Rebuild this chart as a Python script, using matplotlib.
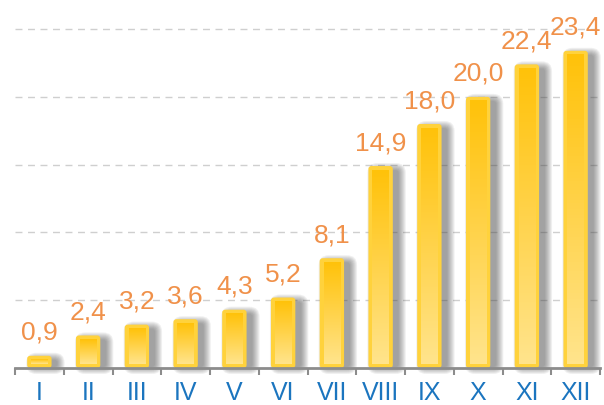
import numpy as np
import matplotlib.pyplot as plt
from matplotlib.patches import FancyBboxPatch
from matplotlib.colors import LinearSegmentedColormap

# datos
meses = ['I', 'II', 'III', 'IV', 'V', 'VI', 'VII', 'VIII', 'IX', 'X', 'XI', 'XII']
valores = [0.9, 2.4, 3.2, 3.6, 4.3, 5.2, 8.1, 14.9, 18.0, 20.0, 22.4, 23.4]
etiquetas = ['0,9', '2,4', '3,2', '3,6', '4,3', '5,2', '8,1', '14,9', '18,0', '20,0', '22,4', '23,4']

plt.rcParams['font.family'] = ['Liberation Sans Narrow', 'Liberation Sans', 'DejaVu Sans']

fig = plt.figure(figsize=(6.04, 4.05), dpi=100)
ax = fig.add_axes([15 / 604, 37 / 405, 585 / 604, 347 / 405])
ax.set_xlim(-0.5, 11.5)
ax.set_ylim(0, 25.6)

# rejilla
for y in [5, 10, 15, 20, 25]:
    ax.axhline(y, color='#cfcfcf', lw=1, ls=(0, (5, 4)), zorder=0)

degradado = LinearSegmentedColormap.from_list('oro', ['#ffe48c', '#ffc20a'])
grad = np.linspace(0, 1, 100).reshape(-1, 1)

# escala: px por unidad
px_x = 585 / 12
px_y = 347 / 25.6
aspecto = px_x / px_y
w = 0.5

for i, v in enumerate(valores):
    x0 = i - w / 2
    # sombra difusa
    for k in range(8):
        grow = k * 1.0
        sh = FancyBboxPatch((x0 + 6 / px_x - grow / px_x, -grow / px_y + 1 / px_y),
                            w + 2 * grow / px_x, v + 2 * grow / px_y - 5 / px_y,
                            boxstyle='round,pad=0,rounding_size=%f' % ((3 + grow) / px_x),
                            mutation_aspect=aspecto, fc='#444444', ec='none',
                            alpha=0.08, zorder=1, clip_on=False)
        ax.add_patch(sh)
    # borde claro
    caja = FancyBboxPatch((x0, 0), w, v,
                          boxstyle='round,pad=0,rounding_size=%f' % (3 / px_x),
                          mutation_aspect=aspecto, fc='#ffd23c', ec='none', zorder=2)
    ax.add_patch(caja)
    # cuerpo con degradado
    ix = 4 / px_x
    iy = 4 / px_y
    if v * px_y > 10:
        ax.imshow(grad, cmap=degradado, aspect='auto', origin='lower',
                  extent=(x0 + ix, x0 + w - ix, iy, v - iy), zorder=3)
    else:
        ax.imshow(grad, cmap=degradado, aspect='auto', origin='lower',
                  extent=(x0 + ix, x0 + w - ix, v * 0.35, v * 0.65), zorder=3)
    ax.annotate(etiquetas[i], (i, v), xytext=(0, 11), textcoords='offset pixels',
                ha='center', va='bottom', fontsize=19, color='#f0914a',
                annotation_clip=False, zorder=5)

ax.set_xlim(-0.5, 11.5)
ax.set_ylim(0, 25.6)

# ejes
for s in ['top', 'right', 'left']:
    ax.spines[s].set_visible(False)
ax.spines['bottom'].set_color('#8c8c8c')
ax.spines['bottom'].set_linewidth(2)
ax.set_yticks([])
ax.set_xticks(range(12))
ax.set_xticklabels(meses, fontsize=18, color='#1b75bf')
ax.tick_params(axis='x', which='major', length=0, pad=9)
ax.set_xticks(np.arange(-0.5, 12, 1), minor=True)
ax.tick_params(axis='x', which='minor', length=5, width=1.5, color='#8c8c8c', direction='out')

fig.savefig('out.png', dpi=100)
